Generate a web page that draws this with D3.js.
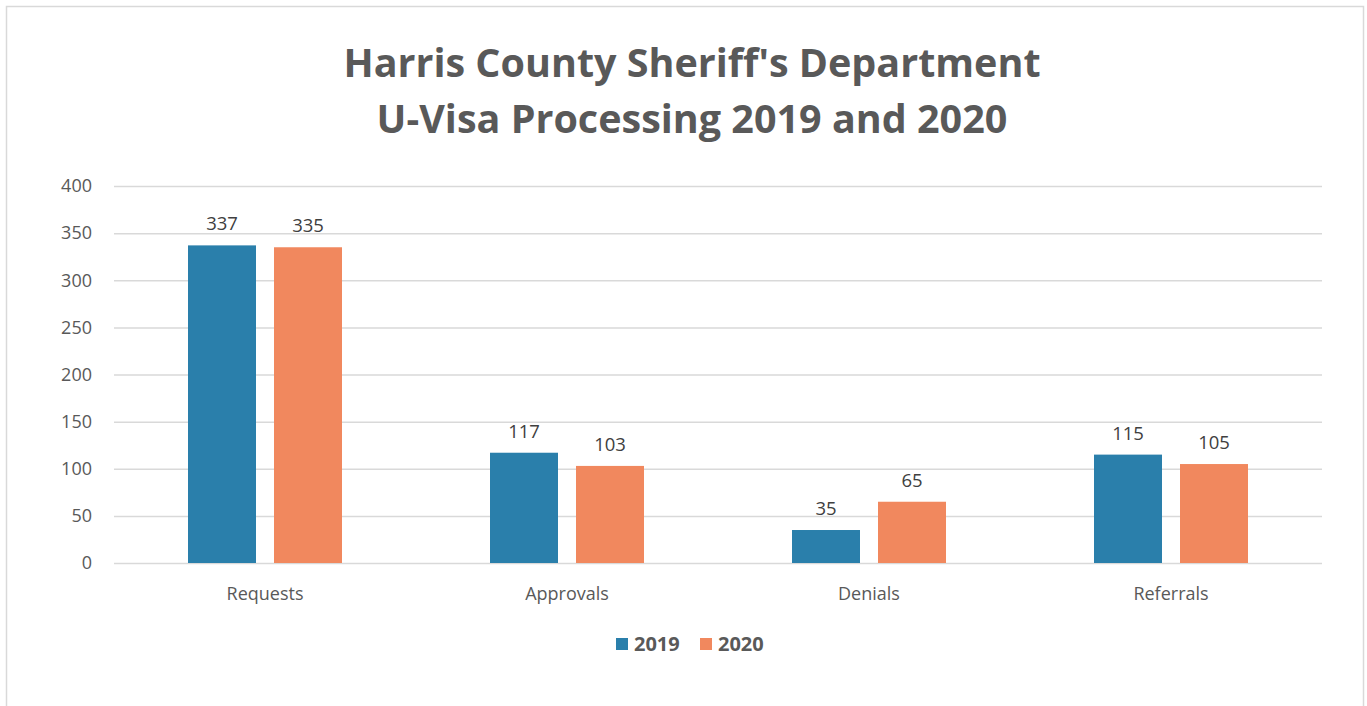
<!DOCTYPE html>
<html>
<head>
<meta charset="utf-8">
<script src="https://cdn.jsdelivr.net/npm/d3@7"></script>
<style>
  body { margin: 0; background: #fff; }
  text { font-family: "Open Sans", "Noto Sans", sans-serif; }
</style>
</head>
<body>
<div class="chart"></div>
<script>
const width = 1367;
const height = 706;

const categories = ['Requests', 'Approvals', 'Denials', 'Referrals'];
const seriesNames = ['2019', '2020'];
const values2019 = [337, 117, 35, 115];
const values2020 = [335, 103, 65, 105];
const yTicks = [0, 50, 100, 150, 200, 250, 300, 350, 400];
const titleLines = ["Harris County Sheriff's Department", 'U-Visa Processing 2019 and 2020'];
const colors = ['#2a7fab', '#f1885e'];

const plot = { left: 114, right: 1322, top: 186, bottom: 563 };

const svg = d3.select('.chart').append('svg')
    .attr('width', width)
    .attr('height', height);

// outer frame
svg.append('rect')
    .attr('x', 6.5).attr('y', 6.5)
    .attr('width', 1357).attr('height', 705)
    .attr('fill', '#fff')
    .attr('stroke', '#d9d9d9')
    .attr('stroke-width', 1.5);

// title
svg.append('g').selectAll('text')
    .data(titleLines)
    .enter().append('text')
    .attr('x', 692)
    .attr('y', (d, i) => 77 + i * 56)
    .attr('text-anchor', 'middle')
    .attr('font-size', 39.5)
    .attr('font-weight', 'bold')
    .attr('fill', '#595959')
    .text(d => d);

const yScale = d3.scaleLinear()
    .domain([0, 400])
    .range([plot.bottom, plot.top]);

const xScale = d3.scaleBand()
    .domain(categories)
    .range([plot.left, plot.right]);

const xInner = d3.scaleBand()
    .domain(seriesNames)
    .range([0, 154])
    .paddingInner(18 / 86);

// gridlines + y labels
const yAxis = d3.axisLeft(yScale)
    .tickValues(yTicks)
    .tickSize(-(plot.right - plot.left))
    .tickPadding(22);
svg.append('g')
    .attr('transform', `translate(${plot.left},0)`)
    .call(yAxis)
    .call(g => g.select('.domain').remove())
    .call(g => g.selectAll('.tick line').attr('stroke', '#d9d9d9').attr('stroke-width', 1.5))
    .call(g => g.selectAll('.tick text')
        .attr('font-size', 18)
        .attr('fill', '#595959')
        .style('font-family', '"Open Sans", sans-serif'));

// x labels
const xAxis = d3.axisBottom(xScale).tickSize(0).tickPadding(24);
svg.append('g')
    .attr('transform', `translate(0,${plot.bottom})`)
    .call(xAxis)
    .call(g => g.select('.domain').remove())
    .call(g => g.selectAll('.tick text')
        .attr('font-size', 18)
        .attr('fill', '#595959')
        .style('font-family', '"Open Sans", sans-serif'));

// bars
const rows = categories.map((c, i) => ({
    cat: c,
    vals: [
        { s: seriesNames[0], v: values2019[i], c: colors[0] },
        { s: seriesNames[1], v: values2020[i], c: colors[1] }
    ]
}));

const groups = svg.append('g').selectAll('g')
    .data(rows)
    .enter().append('g')
    .attr('transform', d => `translate(${xScale(d.cat) + xScale.bandwidth() / 2 - 77},0)`);

groups.selectAll('rect')
    .data(d => d.vals)
    .enter().append('rect')
    .attr('x', d => xInner(d.s))
    .attr('y', d => yScale(d.v))
    .attr('width', xInner.bandwidth())
    .attr('height', d => plot.bottom - yScale(d.v))
    .attr('fill', d => d.c);

groups.selectAll('text')
    .data(d => d.vals)
    .enter().append('text')
    .attr('x', d => xInner(d.s) + xInner.bandwidth() / 2)
    .attr('y', d => yScale(d.v) - 15)
    .attr('text-anchor', 'middle')
    .attr('font-size', 18.5)
    .attr('fill', '#404040')
    .text(d => d.v);

// legend
const legend = svg.append('g').selectAll('g')
    .data(seriesNames)
    .enter().append('g')
    .attr('transform', (d, i) => `translate(${616 + i * 84},638)`);
legend.append('rect')
    .attr('width', 12).attr('height', 12)
    .attr('fill', (d, i) => colors[i]);
legend.append('text')
    .attr('x', 18).attr('y', 13)
    .attr('font-size', 20)
    .attr('font-weight', 'bold')
    .attr('fill', '#595959')
    .text(d => d);
</script>
</body>
</html>
